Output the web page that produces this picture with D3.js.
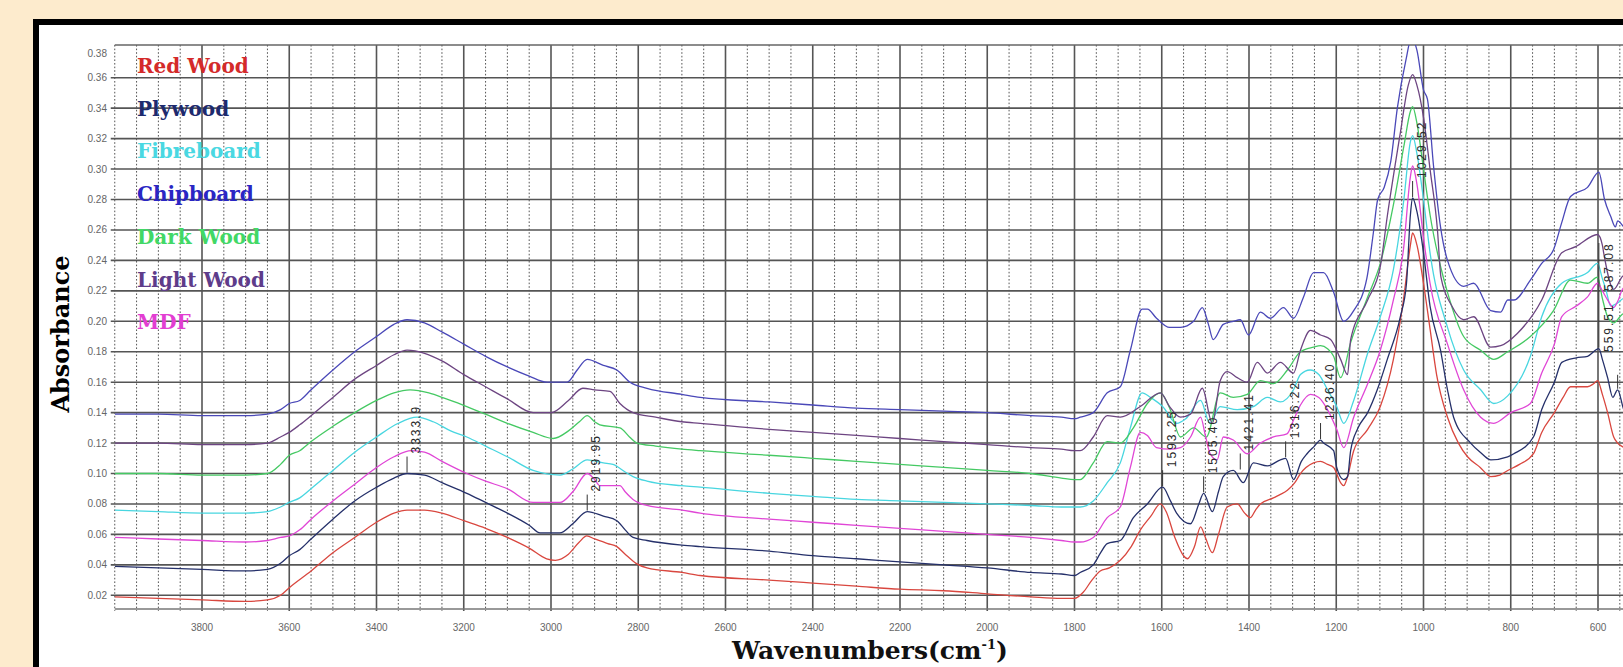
<!DOCTYPE html>
<html>
<head>
<meta charset="utf-8">
<script src="https://cdn.jsdelivr.net/npm/d3@7"></script>
<style>
    html, body { margin: 0; padding: 0; background: #fdebcd; overflow: hidden; }
    svg { display: block; }
</style>
</head>
<body>
<div id="chart"></div>
<script>

// FTIR spectra of wood samples, absorbance vs wavenumber (cm-1)

const seriesNames = ['Red Wood', 'Plywood', 'Fibreboard', 'Chipboard', 'Dark Wood', 'Light Wood', 'MDF']
const lineColors  = ['#d9473f', '#25306a', '#48d6e0', '#4a48b8', '#45c963', '#6d4582', '#e046d6']
const textColors  = ['#d42a2a', '#1d2a6e', '#4ad8e2', '#2a26c4', '#42d866', '#5e3c8a', '#e23ed2']

const xTicks = [3800, 3600, 3400, 3200, 3000, 2800, 2600, 2400, 2200, 2000, 1800, 1600, 1400, 1200, 1000, 800, 600]
const yTicks = [0.02, 0.04, 0.06, 0.08, 0.10, 0.12, 0.14, 0.16, 0.18, 0.20, 0.22, 0.24, 0.26, 0.28, 0.30, 0.32, 0.34, 0.36, 0.38]

// peaks picked on the Plywood trace: [wavenumber, absorbance, label]
const peakPicks = [
    [3330, 0.100, '3333.9'],
    [2917, 0.075, '2919.95'],
    [1598, 0.091, '1593.25'],
    [1504, 0.087, '1505.40'],
    [1420, 0.102, '1421.41'],
    [1316, 0.110, '1316.22'],
    [1236, 0.122, '1236.40'],
    [1025, 0.281, '1029.52'],
    [598, 0.182, '587.08'],
    [555, 0.155, '559.51']
]

const redWood = [[4000,.019],[3900,.018],[3800,.017],[3700,.016],[3650,.017],[3620,.020],[3600,.025],[3550,.036],[3500,.048],[3450,.058],[3400,.068],[3360,.074],[3330,.076],[3290,.076],[3250,.074],[3200,.069],[3150,.064],[3100,.058],[3050,.051],[3010,.044],[2990,.043],[2960,.047],[2935,.055],[2918,.059],[2900,.057],[2870,.054],[2849,.052],[2830,.047],[2805,.041],[2780,.038],[2700,.035],[2658,.033],[2500,.030],[2400,.028],[2300,.026],[2200,.024],[2100,.023],[2000,.021],[1900,.019],[1830,.018],[1800,.018],[1780,.022],[1760,.030],[1741,.036],[1720,.038],[1695,.043],[1670,.052],[1649,.063],[1625,.072],[1603,.080],[1590,.075],[1570,.058],[1550,.046],[1541,.044],[1525,.052],[1511,.065],[1500,.058],[1484,.048],[1470,.060],[1450,.078],[1427,.080],[1410,.074],[1397,.071],[1385,.076],[1374,.080],[1344,.084],[1330,.086],[1312,.089],[1295,.094],[1282,.100],[1252,.107],[1236,.108],[1220,.106],[1206,.104],[1190,.094],[1183,.092],[1174,.098],[1160,.115],[1128,.129],[1099,.144],[1069,.175],[1046,.214],[1030,.250],[1025,.258],[1015,.250],[1000,.225],[985,.195],[970,.165],[945,.137],[920,.120],[899,.111],[870,.104],[846,.098],[825,.099],[807,.102],[780,.106],[748,.113],[729,.127],[700,.140],[680,.150],[663,.157],[640,.157],[624,.157],[610,.159],[601,.161],[590,.152],[578,.140],[564,.124],[555,.120],[541,.117],[520,.110]]

const plywood = [[4000,.039],[3900,.038],[3800,.037],[3700,.036],[3650,.037],[3620,.041],[3600,.046],[3576,.050],[3550,.057],[3500,.070],[3450,.082],[3400,.091],[3360,.097],[3330,.100],[3290,.099],[3250,.094],[3193,.087],[3150,.081],[3100,.074],[3050,.066],[3025,.061],[2980,.061],[2950,.067],[2917,.075],[2880,.072],[2849,.069],[2830,.063],[2812,.058],[2780,.056],[2700,.053],[2658,.052],[2500,.049],[2400,.046],[2300,.044],[2200,.042],[2100,.040],[2000,.038],[1900,.035],[1830,.034],[1800,.033],[1787,.035],[1757,.040],[1740,.048],[1725,.054],[1695,.056],[1665,.071],[1633,.080],[1598,.091],[1580,.082],[1566,.074],[1534,.067],[1515,.080],[1504,.087],[1484,.075],[1470,.088],[1459,.098],[1436,.102],[1413,.094],[1390,.107],[1358,.105],[1328,.109],[1316,.110],[1298,.096],[1280,.108],[1267,.113],[1250,.118],[1236,.122],[1229,.120],[1206,.115],[1199,.104],[1183,.096],[1174,.098],[1167,.115],[1150,.130],[1128,.140],[1106,.155],[1083,.175],[1053,.203],[1039,.225],[1030,.270],[1025,.281],[1015,.272],[1000,.245],[985,.210],[961,.181],[945,.155],[931,.137],[892,.120],[870,.114],[846,.109],[807,.111],[793,.113],[748,.124],[729,.142],[700,.160],[683,.173],[650,.176],[624,.177],[598,.182],[590,.175],[578,.163],[566,.150],[555,.155],[541,.142],[520,.135]]

const fibreboard = [[4000,.076],[3900,.075],[3800,.074],[3700,.074],[3650,.075],[3620,.078],[3600,.081],[3576,.084],[3550,.090],[3500,.102],[3450,.114],[3400,.124],[3350,.133],[3307,.137],[3270,.134],[3230,.128],[3193,.124],[3150,.118],[3100,.111],[3041,.102],[2979,.099],[2950,.103],[2917,.109],[2880,.107],[2858,.106],[2830,.101],[2812,.098],[2780,.095],[2700,.092],[2658,.091],[2500,.087],[2400,.085],[2300,.083],[2200,.082],[2100,.081],[2000,.080],[1900,.079],[1830,.078],[1800,.078],[1787,.078],[1757,.082],[1725,.094],[1695,.107],[1672,.130],[1645,.153],[1626,.150],[1598,.144],[1566,.133],[1545,.136],[1511,.148],[1490,.133],[1466,.144],[1427,.142],[1390,.144],[1358,.150],[1328,.147],[1298,.155],[1282,.165],[1260,.168],[1240,.165],[1220,.155],[1199,.144],[1183,.133],[1160,.148],[1128,.179],[1099,.203],[1069,.234],[1045,.280],[1030,.318],[1025,.322],[1015,.310],[1000,.280],[985,.245],[945,.196],[908,.168],[869,.155],[839,.146],[807,.151],[755,.177],[729,.203],[683,.225],[624,.232],[601,.238],[590,.228],[582,.221],[571,.210],[555,.212],[541,.215],[520,.210]]

const chipboard = [[4000,.139],[3900,.139],[3800,.138],[3700,.138],[3650,.139],[3620,.142],[3600,.146],[3576,.148],[3550,.155],[3500,.168],[3450,.180],[3400,.190],[3360,.198],[3330,.201],[3290,.199],[3250,.193],[3200,.185],[3150,.177],[3100,.170],[3050,.164],[3009,.160],[2963,.160],[2940,.168],[2917,.175],[2880,.171],[2849,.168],[2819,.160],[2780,.156],[2700,.152],[2658,.150],[2500,.147],[2400,.145],[2300,.143],[2200,.142],[2100,.141],[2000,.140],[1900,.138],[1830,.137],[1800,.136],[1787,.137],[1757,.140],[1725,.153],[1695,.157],[1672,.181],[1645,.208],[1633,.208],[1612,.202],[1582,.196],[1557,.196],[1527,.200],[1507,.209],[1493,.198],[1482,.188],[1459,.198],[1436,.200],[1420,.201],[1401,.191],[1374,.206],[1351,.202],[1321,.209],[1298,.202],[1275,.216],[1252,.232],[1229,.232],[1206,.219],[1183,.200],[1160,.207],[1130,.228],[1115,.258],[1105,.280],[1090,.288],[1075,.305],[1060,.340],[1040,.372],[1028,.386],[1015,.378],[1000,.352],[991,.346],[977,.302],[961,.262],[945,.240],[908,.223],[885,.225],[846,.207],[823,.206],[807,.214],[793,.214],[755,.227],[729,.238],[702,.247],[683,.265],[663,.282],[624,.288],[598,.298],[585,.280],[571,.269],[560,.262],[555,.266],[541,.262],[520,.255]]

const darkWood = [[4000,.100],[3900,.100],[3800,.099],[3700,.099],[3650,.100],[3620,.106],[3600,.112],[3576,.115],[3550,.121],[3500,.131],[3450,.140],[3400,.148],[3360,.153],[3323,.155],[3280,.153],[3240,.149],[3193,.144],[3150,.139],[3100,.133],[3041,.127],[2995,.123],[2960,.128],[2935,.134],[2917,.138],[2900,.134],[2888,.132],[2842,.130],[2820,.124],[2803,.120],[2760,.118],[2700,.116],[2658,.115],[2500,.112],[2400,.110],[2300,.108],[2200,.106],[2100,.104],[2000,.102],[1900,.100],[1830,.097],[1800,.096],[1787,.096],[1757,.107],[1725,.121],[1695,.120],[1665,.130],[1633,.146],[1603,.153],[1582,.143],[1557,.124],[1527,.130],[1498,.124],[1466,.153],[1436,.150],[1404,.152],[1374,.161],[1344,.159],[1312,.168],[1282,.180],[1252,.183],[1236,.184],[1220,.182],[1206,.177],[1190,.163],[1167,.186],[1128,.216],[1099,.238],[1070,.275],[1045,.315],[1030,.338],[1025,.341],[1015,.330],[1000,.300],[985,.270],[960,.235],[945,.219],[908,.190],[869,.181],[839,.175],[807,.180],[755,.190],[702,.207],[663,.227],[624,.225],[601,.229],[590,.215],[578,.203],[564,.199],[541,.205],[520,.200]]

const lightWood = [[4000,.120],[3900,.120],[3800,.119],[3700,.119],[3650,.120],[3620,.124],[3600,.127],[3576,.132],[3550,.138],[3500,.150],[3450,.162],[3400,.171],[3360,.178],[3330,.181],[3290,.179],[3250,.174],[3200,.165],[3150,.157],[3100,.149],[3041,.140],[3000,.140],[2960,.148],[2927,.156],[2900,.155],[2865,.154],[2842,.146],[2812,.140],[2760,.137],[2700,.134],[2658,.133],[2500,.129],[2400,.127],[2300,.125],[2200,.123],[2100,.121],[2000,.119],[1900,.117],[1830,.116],[1800,.115],[1787,.115],[1757,.124],[1725,.138],[1695,.137],[1649,.144],[1603,.153],[1582,.144],[1557,.137],[1534,.139],[1507,.156],[1484,.133],[1466,.161],[1450,.167],[1427,.163],[1404,.160],[1381,.173],[1358,.166],[1328,.173],[1298,.166],[1282,.181],[1259,.194],[1236,.191],[1213,.188],[1190,.175],[1174,.165],[1167,.188],[1128,.214],[1099,.236],[1083,.269],[1053,.324],[1035,.355],[1025,.362],[1015,.355],[1000,.334],[985,.300],[968,.260],[960,.229],[935,.210],[908,.201],[885,.203],[846,.183],[823,.184],[785,.192],[729,.214],[683,.245],[651,.249],[601,.257],[590,.250],[587,.245],[564,.221],[541,.230],[520,.225]]

const mdf = [[4000,.058],[3900,.057],[3800,.056],[3700,.055],[3650,.056],[3620,.058],[3600,.059],[3576,.063],[3550,.070],[3500,.082],[3450,.093],[3400,.104],[3360,.111],[3320,.115],[3290,.114],[3250,.108],[3193,.100],[3150,.095],[3100,.090],[3041,.081],[2979,.081],[2950,.088],[2917,.100],[2900,.096],[2888,.092],[2842,.092],[2830,.088],[2812,.083],[2780,.079],[2700,.076],[2658,.074],[2500,.070],[2400,.068],[2300,.066],[2200,.064],[2100,.062],[2000,.060],[1900,.058],[1830,.056],[1800,.055],[1787,.055],[1757,.058],[1725,.071],[1695,.078],[1672,.104],[1649,.127],[1633,.125],[1612,.117],[1582,.116],[1557,.117],[1534,.124],[1511,.137],[1500,.125],[1489,.113],[1473,.109],[1459,.124],[1436,.122],[1404,.113],[1374,.120],[1344,.124],[1313,.126],[1298,.135],[1282,.145],[1259,.152],[1240,.150],[1220,.142],[1199,.129],[1183,.117],[1160,.137],[1128,.159],[1099,.181],[1069,.214],[1046,.247],[1030,.295],[1025,.302],[1015,.290],[1000,.255],[985,.225],[945,.185],[908,.155],[869,.137],[839,.133],[800,.140],[755,.146],[729,.166],[700,.185],[683,.203],[650,.210],[624,.216],[601,.225],[590,.220],[578,.214],[564,.209],[555,.213],[541,.222],[520,.215]]

const seriesData = [redWood, plywood, fibreboard, chipboard, darkWood, lightWood, mdf]

const width = 1623,
      height = 667,
      plotTop = 45,
      plotBottom = 609

const xScale = d3.scaleLinear().domain([4000, 400]).range([114.75, 1685.25])
const yScale = d3.scaleLinear().domain([0.011, 0.3815]).range([plotBottom, plotTop])

const svg = d3.select('#chart')
    .append('svg')
    .attr('width', width)
    .attr('height', height)

svg.append('rect')
    .attr('width', width)
    .attr('height', height)
    .attr('fill', '#fdebcd')

// black frame, cropped on the right and bottom like the original figure
svg.append('rect')
    .attr('x', 36)
    .attr('y', 22)
    .attr('width', 1700)
    .attr('height', 700)
    .attr('fill', '#fff')
    .attr('stroke', '#000')
    .attr('stroke-width', 6)

svg.append('clipPath')
    .attr('id', 'plot-clip')
    .append('rect')
    .attr('x', xScale(4000))
    .attr('y', plotTop)
    .attr('width', xScale(400) - xScale(4000))
    .attr('height', plotBottom - plotTop)

const grid = svg.append('g')

// dotted minor verticals every 50 cm-1
const minorX = d3.range(4000, 399, -50).filter(v => v % 200 !== 0 || v === 4000)

grid.append('g')
    .selectAll('line')
    .data(minorX)
    .join('line')
    .attr('x1', d => xScale(d))
    .attr('x2', d => xScale(d))
    .attr('y1', plotTop)
    .attr('y2', plotBottom + 2)
    .attr('stroke', '#555')
    .attr('stroke-width', 1)
    .attr('stroke-dasharray', '1.6,2')

grid.append('g')
    .selectAll('line')
    .data(xTicks)
    .join('line')
    .attr('x1', d => xScale(d))
    .attr('x2', d => xScale(d))
    .attr('y1', plotTop)
    .attr('y2', plotBottom + 2)
    .attr('stroke', '#555')
    .attr('stroke-width', 1.6)

grid.append('g')
    .selectAll('line')
    .data(yTicks.filter(d => d < 0.37))
    .join('line')
    .attr('x1', xScale(4000) - 4)
    .attr('x2', width)
    .attr('y1', d => yScale(d))
    .attr('y2', d => yScale(d))
    .attr('stroke', '#555')
    .attr('stroke-width', 1.6)

grid.append('line')
    .attr('x1', xScale(4000))
    .attr('x2', width)
    .attr('y1', plotTop)
    .attr('y2', plotTop)
    .attr('stroke', '#666')
    .attr('stroke-width', 1.4)

grid.append('line')
    .attr('x1', xScale(4000))
    .attr('x2', width)
    .attr('y1', plotBottom)
    .attr('y2', plotBottom)
    .attr('stroke', '#777')
    .attr('stroke-width', 1.4)

// tick labels
svg.append('g')
    .selectAll('text')
    .data(yTicks)
    .join('text')
    .attr('x', 107)
    .attr('y', d => d > 0.37 ? yScale(d) + 6 : yScale(d))
    .attr('dy', '0.35em')
    .attr('text-anchor', 'end')
    .attr('font-family', 'Liberation Sans, Arial, sans-serif')
    .attr('font-size', '10px')
    .attr('fill', '#666')
    .text(d => d.toFixed(2))

svg.append('g')
    .selectAll('text')
    .data(xTicks)
    .join('text')
    .attr('x', d => xScale(d))
    .attr('y', 627)
    .attr('dy', '0.35em')
    .attr('text-anchor', 'middle')
    .attr('font-family', 'Liberation Sans, Arial, sans-serif')
    .attr('font-size', '10px')
    .attr('fill', '#666')
    .text(d => d)

// spectra
const line = d3.line()
    .x(d => xScale(d[0]))
    .y(d => yScale(d[1]))
    .curve(d3.curveMonotoneX)

svg.append('g')
    .attr('clip-path', 'url(#plot-clip)')
    .selectAll('path')
    .data(seriesData)
    .join('path')
    .attr('fill', 'none')
    .attr('stroke', (d, i) => lineColors[i])
    .attr('stroke-width', 1.3)
    .attr('stroke-linejoin', 'round')
    .attr('d', line)

// peak picks: a short tick above the Plywood peak, then the rotated label.
// the two picks at the right edge are stacked in one column, as in the figure
function pickLayout(d) {
    const px = xScale(d[0]), py = yScale(d[1])
    if (d[0] === 598) return {tickTop: 243, tx: px + 14, ty: 291}
    if (d[0] === 555) return {tickTop: py - 15, tx: xScale(598) + 14, ty: 352}
    return {tickTop: py - 17, tx: px + 13, ty: py - 20}
}

const picks = svg.append('g')

picks.selectAll('line')
    .data(peakPicks)
    .join('line')
    .attr('x1', d => xScale(d[0]))
    .attr('x2', d => xScale(d[0]))
    .attr('y1', d => yScale(d[1]) - 1)
    .attr('y2', d => pickLayout(d).tickTop)
    .attr('stroke', '#333')
    .attr('stroke-width', 1)

picks.selectAll('text')
    .data(peakPicks)
    .join('text')
    .attr('transform', d => `translate(${pickLayout(d).tx},${pickLayout(d).ty}) rotate(-90)`)
    .attr('font-family', 'Liberation Sans, Arial, sans-serif')
    .attr('font-size', '12px')
    .attr('letter-spacing', '2px')
    .attr('fill', '#2a2a2a')
    .text(d => d[2])

// legend
svg.append('g')
    .selectAll('text')
    .data(seriesNames)
    .join('text')
    .attr('x', 137)
    .attr('y', (d, i) => 73 + i * 42.7)
    .attr('font-family', 'DejaVu Serif, serif')
    .attr('font-weight', 'bold')
    .attr('font-size', '20px')
    .attr('fill', (d, i) => textColors[i])
    .text(d => d)

// axis titles
svg.append('text')
    .attr('transform', 'translate(69,334) rotate(-90)')
    .attr('text-anchor', 'middle')
    .attr('font-family', 'DejaVu Serif, serif')
    .attr('font-weight', 'bold')
    .attr('font-size', '24px')
    .attr('fill', '#000')
    .text('Absorbance')

const xTitle = svg.append('text')
    .attr('x', 732)
    .attr('y', 659)
    .attr('font-family', 'DejaVu Serif, serif')
    .attr('font-weight', 'bold')
    .attr('font-size', '25px')
    .attr('fill', '#111')

xTitle.append('tspan').text('Wavenumbers(cm')
xTitle.append('tspan')
    .attr('font-size', '13px')
    .attr('dy', '-10')
    .text('-1')
xTitle.append('tspan')
    .attr('dy', '10')
    .text(')')

</script>
</body>
</html>
